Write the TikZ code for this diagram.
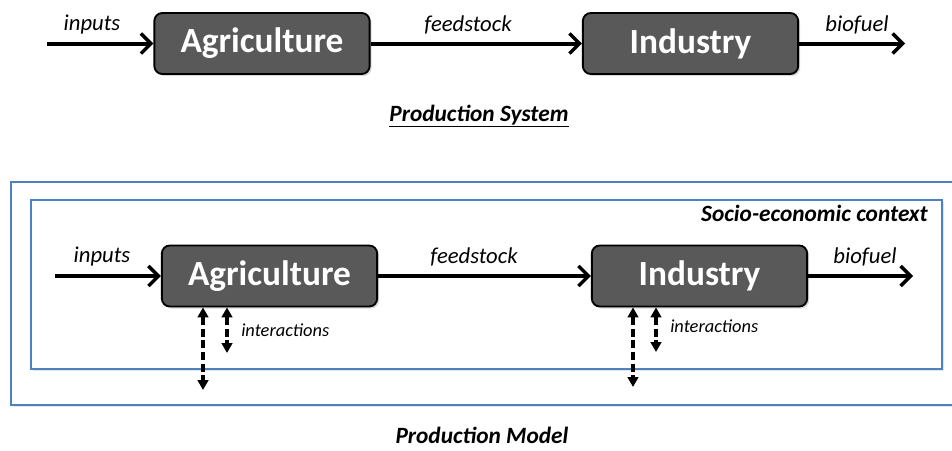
\documentclass[tikz,border=0pt]{standalone}
\usepackage{fontspec}
\setmainfont{Carlito}
\usetikzlibrary{arrows.meta,shadows}
\definecolor{boxgrey}{RGB}{89,89,89}
\definecolor{frameblue}{RGB}{79,129,189}
\begin{document}
\begin{tikzpicture}[x=0.75pt, y=-0.75pt,
    procbox/.style={rectangle, rounded corners=6pt, draw=black, line width=1.4pt, fill=boxgrey, text=white,
      font=\fontsize{26.5}{30}\selectfont\bfseries, minimum width=161.5pt, minimum height=45.75pt,
      drop shadow={opacity=0.3, shadow xshift=1.5pt, shadow yshift=-1.5pt}},
    flow/.style={line width=3pt, -{Straight Barb[length=7.5pt, width=15pt, line width=2.6pt]}},
    link/.style={line width=3pt, dash pattern=on 6pt off 2.8pt,
      {Triangle[length=7.5pt, width=8pt]}-{Triangle[length=7.5pt, width=8pt]}},
    flowlabel/.style={font=\fontsize{17}{20}\selectfont\itshape, inner sep=0pt},
    smalllabel/.style={font=\fontsize{13.8}{16}\selectfont\itshape, inner sep=0pt, anchor=west},
    title/.style={font=\fontsize{17.5}{20}\selectfont\bfseries\itshape, inner sep=0pt},
    frame/.style={draw=frameblue, line width=1.5pt, fill=white,
      drop shadow={opacity=0.2, shadow xshift=1.5pt, shadow yshift=-1.5pt}}]
  \useasboundingbox (0,0) rectangle (952,450);
  % production system
  \node[procbox] (agri1) at (262,43.5) {Agriculture};
  \node[procbox] (ind1) at (690.5,43.5) {Industry};
  \coordinate (in1) at (47,43.5);
  \coordinate (out1) at (905,43.5);
  \foreach \source/\dest in {in1/agri1.west, agri1.east/ind1.west, ind1.east/out1}
    \draw[flow] (\source) -- (\dest);
  \node[flowlabel] (lin1) at (92,25) {inputs};
  \node[flowlabel] (lfeed1) at (468,25) {feedstock};
  \node[flowlabel] (lout1) at (857,25) {biofuel};
  \node[title, anchor=base] (sys) at (479,121) {\underline{Production System}};
  % production model
  \draw[frame] (11,182) rectangle (956,405);
  \draw[frame] (31,200) rectangle (942,369);
  \node[title, anchor=base east] (ctx) at (928,221) {Socio-economic context};
  \node[procbox] (agri2) at (269.5,276) {Agriculture};
  \node[procbox] (ind2) at (699.5,276) {Industry};
  \coordinate (in2) at (55,276);
  \coordinate (out2) at (913,276);
  \foreach \source/\dest in {in2/agri2.west, agri2.east/ind2.west, ind2.east/out2}
    \draw[flow] (\source) -- (\dest);
  \node[flowlabel] (lin2) at (102,257) {inputs};
  \node[flowlabel] (lfeed2) at (474,257) {feedstock};
  \node[flowlabel] (lout2) at (865,257) {biofuel};
  \coordinate (aLong) at (203,390);
  \coordinate (aShort) at (227,353);
  \coordinate (iLong) at (633,387);
  \coordinate (iShort) at (656,352);
  \foreach \dest/\unit in {aLong/agri2, aShort/agri2, iLong/ind2, iShort/ind2}
    \draw[link] (\dest |- \unit.south) -- (\dest);
  \node[smalllabel] (lagri) at (241,330) {interactions};
  \node[smalllabel] (lind) at (670,326) {interactions};
  \node[title, anchor=base] (mod) at (482,443) {Production Model};
\end{tikzpicture}
\end{document}
